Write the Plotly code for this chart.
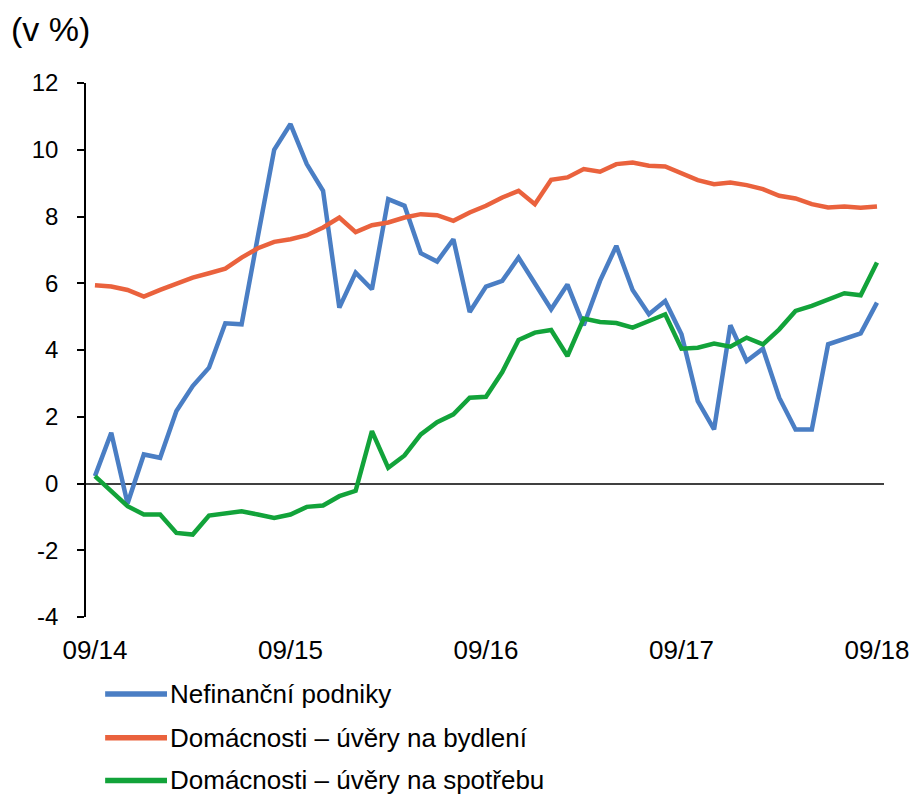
import plotly.graph_objects as go

months = list(range(49))
tick_vals = [0, 12, 24, 36, 48]
tick_text = ["09/14", "09/15", "09/16", "09/17", "09/18"]
y_tick_vals = [-4, -2, 0, 2, 4, 6, 8, 10, 12]
y_tick_text = ["-4", "-2", "0", "2", "4", "6", "8", "10", "12"]

nefinancni = [0.22, 1.52, -0.6, 0.87, 0.77, 2.17, 2.92, 3.47, 4.8, 4.77,
              7.4, 10.0, 10.77, 9.57, 8.77, 5.27, 6.32, 5.82, 8.52, 8.32,
              6.9, 6.65, 7.32, 5.14, 5.9, 6.07, 6.77, 5.97, 5.22, 5.96,
              4.74, 6.07, 7.12, 5.8, 5.07, 5.47, 4.47, 2.47, 1.62, 4.74,
              3.67, 4.04, 2.57, 1.62, 1.62, 4.17, 4.34, 4.5, 5.42]

bydleni = [5.94, 5.9, 5.8, 5.6, 5.8, 5.97, 6.17, 6.3, 6.44, 6.77,
           7.05, 7.24, 7.32, 7.44, 7.67, 7.97, 7.53, 7.74, 7.82, 7.97,
           8.07, 8.04, 7.87, 8.12, 8.32, 8.57, 8.77, 8.37, 9.1, 9.17,
           9.42, 9.34, 9.57, 9.62, 9.52, 9.5, 9.3, 9.09, 8.97, 9.02,
           8.94, 8.82, 8.62, 8.54, 8.37, 8.27, 8.3, 8.26, 8.3]

spotreba = [0.22, -0.23, -0.68, -0.93, -0.93, -1.48, -1.53, -0.96, -0.9, -0.83,
            -0.93, -1.03, -0.93, -0.7, -0.66, -0.38, -0.22, 1.57, 0.47, 0.84,
            1.47, 1.84, 2.07, 2.57, 2.6, 3.34, 4.3, 4.52, 4.6, 3.82,
            4.94, 4.84, 4.81, 4.67, 4.87, 5.07, 4.04, 4.07, 4.19, 4.1,
            4.37, 4.17, 4.62, 5.17, 5.32, 5.52, 5.7, 5.64, 6.62]

series_names = ["Nefinanční podniky", "Domácnosti – úvěry na bydlení", "Domácnosti – úvěry na spotřebu"]
colors = ["#4A7EC4", "#EA623D", "#12A33A"]

FONT = "Liberation Sans, Arial, sans-serif"

fig = go.Figure()
for name, vals, col in zip(series_names, [nefinancni, bydleni, spotreba], colors):
    fig.add_trace(go.Scatter(x=months, y=vals, mode="lines", name=name,
                             line=dict(color=col, width=4.5), showlegend=False))

# manual legend below the plot (paper coordinates)
legend_rows_y = [-0.144, -0.226, -0.306]
shapes = []
annotations = []
for name, col, ly in zip(series_names, colors, legend_rows_y):
    shapes.append(dict(type="line", xref="paper", yref="paper",
                       x0=0.024, x1=0.1015, y0=ly, y1=ly,
                       line=dict(color=col, width=5.5)))
    annotations.append(dict(text=name, xref="paper", yref="paper",
                            x=0.103, y=ly, xanchor="left", yanchor="middle",
                            showarrow=False,
                            font=dict(size=26, family=FONT, color="#000")))

annotations.append(dict(text="(v %)", xref="paper", yref="paper",
                        x=-0.097, y=1.102, xanchor="left", yanchor="middle",
                        showarrow=False, font=dict(size=34, family=FONT, color="#000")))

fig.update_layout(
    width=913, height=799,
    margin=dict(l=86, r=29, t=83, b=182, autoexpand=False),
    paper_bgcolor="white", plot_bgcolor="white",
    font=dict(family=FONT, color="#000000"),
    showlegend=False,
    xaxis=dict(range=[-0.55, 48.43], tickvals=tick_vals, ticktext=tick_text,
               showgrid=False, zeroline=False, showline=False,
               ticks="outside", ticklen=10, tickcolor="rgba(0,0,0,0)",
               tickfont=dict(size=26, family=FONT, color="#000")),
    yaxis=dict(range=[-4, 12], tickvals=y_tick_vals, ticktext=y_tick_text,
               showgrid=False, zeroline=True, zerolinecolor="#404040", zerolinewidth=2,
               showline=True, linecolor="#000", linewidth=1.5,
               ticks="outside", ticklen=7, tickcolor="#000", tickwidth=1.5,
               ticklabelstandoff=14,
               tickfont=dict(size=24, family=FONT, color="#000")),
    shapes=shapes,
    annotations=annotations,
)

fig.write_html("out.html", config={"displayModeBar": False},
               post_script="document.body.style.margin='0px';document.body.style.overflow='hidden';")
